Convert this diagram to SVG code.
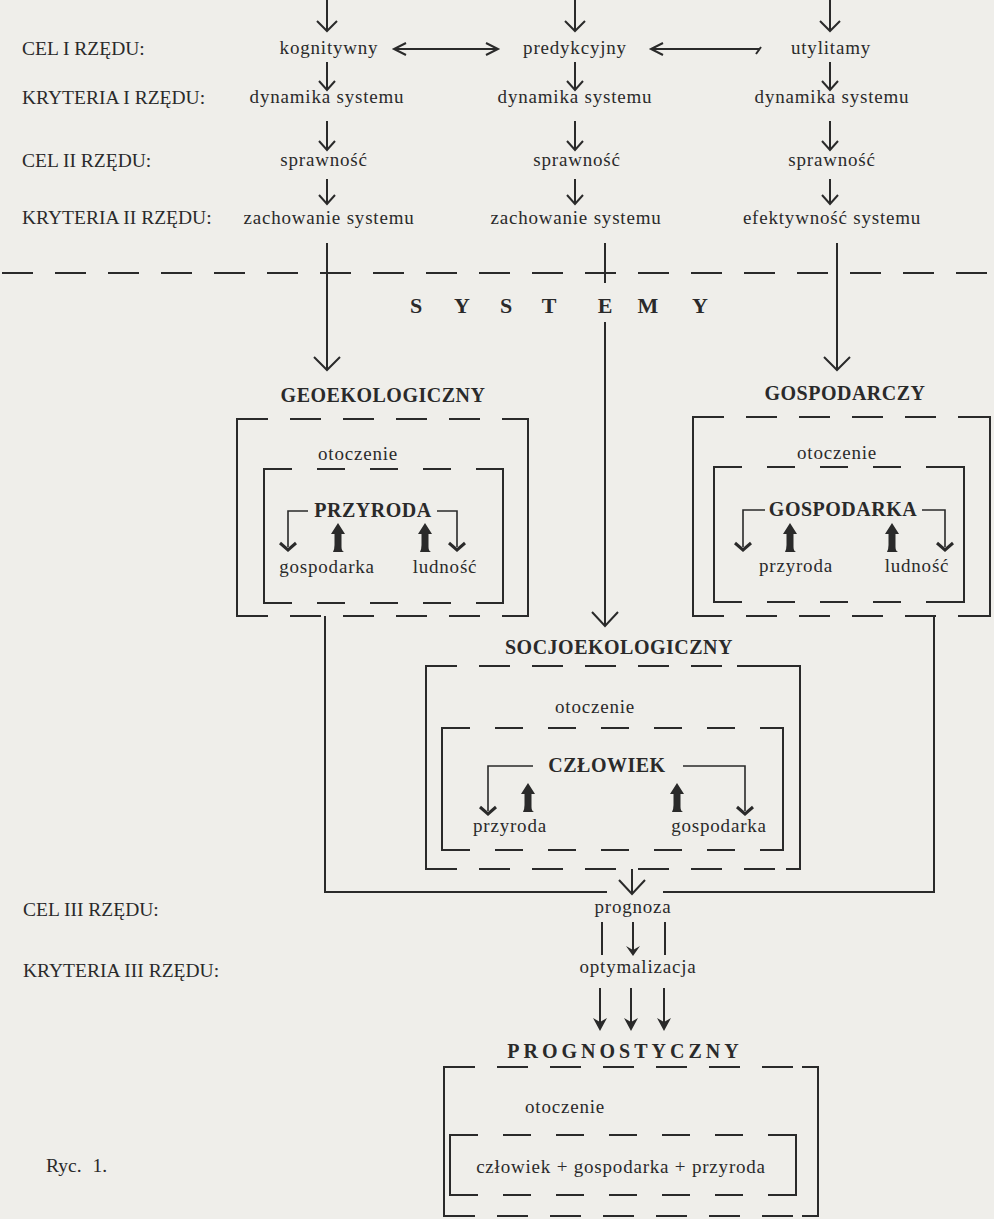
<svg xmlns="http://www.w3.org/2000/svg" xmlns:xlink="http://www.w3.org/1999/xlink" width="994" height="1219" viewBox="0 0 994 1219">
<defs>
<style>
text{font-family:"Liberation Serif","DejaVu Serif",serif;fill:#2a2a2a}
.lbl{font-size:19.5px}
.t{font-size:19px;letter-spacing:0.8px;text-anchor:middle}
.h{font-size:20px;font-weight:bold;letter-spacing:0.5px;text-anchor:middle}
.sys{font-size:22px;font-weight:bold;text-anchor:middle}
.ln{fill:none;stroke:#2a2a2a;stroke-width:2}
.thin{fill:none;stroke:#2a2a2a;stroke-width:1.6}
.dash{fill:none;stroke:#2a2a2a;stroke-width:2;stroke-dasharray:31 22}
.chev{fill:none;stroke:#2a2a2a;stroke-width:3}
.fill{fill:#2a2a2a}
</style>
<path id="thick" d="M0,-15 L7,-4 L3.5,-4 L3.5,9 Q3.5,13 6,14 L-5,14 Q-3.5,11 -3.5,7 L-3.5,-4 L-7,-4 Z"/>
<path id="chev" d="M-8,-5 L0,2 L8,-5"/>
</defs>
<rect x="0" y="0" width="994" height="1219" fill="#efeeea"/>

<g id="labels">
<text class="lbl" x="22" y="55">CEL I RZĘDU:</text>
<text class="lbl" x="22" y="104">KRYTERIA I RZĘDU:</text>
<text class="lbl" x="22" y="167">CEL II RZĘDU:</text>
<text class="lbl" x="22" y="224">KRYTERIA II RZĘDU:</text>
<text class="lbl" x="23" y="916">CEL III RZĘDU:</text>
<text class="lbl" x="23" y="977">KRYTERIA III RZĘDU:</text>
<text class="lbl" x="46" y="1172" word-spacing="6">Ryc. 1.</text>
</g>

<g id="col1">
<text class="t" x="329" y="54">kognitywny</text>
<text class="t" x="327" y="103">dynamika systemu</text>
<text class="t" x="324" y="166">sprawność</text>
<text class="t" x="329" y="224">zachowanie systemu</text>
</g>
<g id="col2">
<text class="t" x="575" y="54">predykcyjny</text>
<text class="t" x="575" y="103">dynamika systemu</text>
<text class="t" x="577" y="166">sprawność</text>
<text class="t" x="576" y="224">zachowanie systemu</text>
</g>
<g id="col3">
<text class="t" x="831" y="54">utylitamy</text>
<text class="t" x="832" y="103">dynamika systemu</text>
<text class="t" x="832" y="166">sprawność</text>
<text class="t" x="832" y="224">efektywność systemu</text>
</g>

<g id="systemy">
<text class="sys" x="416" y="313">S</text>
<text class="sys" x="462" y="313">Y</text>
<text class="sys" x="506" y="313">S</text>
<text class="sys" x="549" y="313">T</text>
<text class="sys" x="605" y="313">E</text>
<text class="sys" x="648" y="313">M</text>
<text class="sys" x="700" y="313">Y</text>
</g>

<g id="geoekologiczny">
<text class="h" x="383" y="402">GEOEKOLOGICZNY</text>
<line class="dash" x1="237" y1="419" x2="528" y2="419"/>
<line class="dash" x1="237" y1="616" x2="528" y2="616"/>
<path class="ln" d="M252,419 H237 V616 H252"/>
<path class="ln" d="M514,419 H528 V616 H514"/>
<text class="t" x="358" y="460">otoczenie</text>
<line class="dash" x1="264" y1="469" x2="503" y2="469" style="stroke-dasharray:28 25"/>
<line class="dash" x1="264" y1="603" x2="503" y2="603" style="stroke-dasharray:28 25"/>
<path class="ln" d="M276,469 H264 V603 H276"/>
<path class="ln" d="M491,469 H503 V603 H491"/>
<text class="h" x="373" y="517">PRZYRODA</text>
<path class="thin" d="M308,511 H288 V547 M437,511 H457 V547"/>
<use xlink:href="#chev" href="#chev" class="chev" x="288" y="548"/>
<use xlink:href="#chev" href="#chev" class="chev" x="457" y="548"/>
<use xlink:href="#thick" href="#thick" class="fill" x="338" y="538"/>
<use xlink:href="#thick" href="#thick" class="fill" x="425" y="538"/>
<text class="t" x="327" y="573">gospodarka</text>
<text class="t" x="445" y="573">ludność</text>
</g>

<g id="gospodarczy">
<text class="h" x="845" y="400">GOSPODARCZY</text>
<line class="dash" x1="693" y1="417" x2="990" y2="417"/>
<line class="dash" x1="693" y1="616" x2="990" y2="616"/>
<path class="ln" d="M708,417 H693 V616 H708"/>
<path class="ln" d="M976,417 H990 V616 H976"/>
<text class="t" x="837" y="459">otoczenie</text>
<line class="dash" x1="714" y1="467" x2="964" y2="467" style="stroke-dasharray:28 25"/>
<line class="dash" x1="714" y1="602" x2="964" y2="602" style="stroke-dasharray:28 25"/>
<path class="ln" d="M726,467 H714 V602 H726"/>
<path class="ln" d="M952,467 H964 V602 H952"/>
<text class="h" x="843" y="516">GOSPODARKA</text>
<path class="thin" d="M765,510 H743 V547 M922,510 H945 V547"/>
<use xlink:href="#chev" href="#chev" class="chev" x="743" y="548"/>
<use xlink:href="#chev" href="#chev" class="chev" x="945" y="548"/>
<use xlink:href="#thick" href="#thick" class="fill" x="790" y="538"/>
<use xlink:href="#thick" href="#thick" class="fill" x="892" y="538"/>
<text class="t" x="796" y="572">przyroda</text>
<text class="t" x="917" y="572">ludność</text>
</g>

<g id="socjoekologiczny">
<text class="h" x="619" y="654">SOCJOEKOLOGICZNY</text>
<line class="dash" x1="426" y1="666" x2="800" y2="666"/>
<line class="dash" x1="426" y1="869" x2="800" y2="869"/>
<path class="ln" d="M442,666 H426 V869 H442"/>
<path class="ln" d="M737,666 H800 V869 H786"/>
<text class="t" x="595" y="713">otoczenie</text>
<line class="dash" x1="442" y1="728" x2="783" y2="728" style="stroke-dasharray:28 25"/>
<line class="dash" x1="442" y1="850" x2="783" y2="850" style="stroke-dasharray:28 25"/>
<path class="ln" d="M454,728 H442 V850 H454"/>
<path class="ln" d="M771,728 H783 V850 H771"/>
<text class="h" x="607" y="772">CZŁOWIEK</text>
<path class="thin" d="M533,766 H488 V811 M683,766 H745 V811"/>
<use xlink:href="#chev" href="#chev" class="chev" x="488" y="812"/>
<use xlink:href="#chev" href="#chev" class="chev" x="745" y="812"/>
<use xlink:href="#thick" href="#thick" class="fill" x="528" y="798"/>
<use xlink:href="#thick" href="#thick" class="fill" x="677" y="798"/>
<text class="t" x="510" y="832">przyroda</text>
<text class="t" x="719" y="832">gospodarka</text>
</g>

<g id="bottom">
<text class="t" x="633" y="913">prognoza</text>
<text class="t" x="638" y="973">optymalizacja</text>
</g>

<g id="prognostyczny">
<text class="h" x="625" y="1058" style="letter-spacing:4px">PROGNOSTYCZNY</text>
<line class="dash" x1="444" y1="1067" x2="818" y2="1067"/>
<line class="dash" x1="444" y1="1216" x2="818" y2="1216"/>
<path class="ln" d="M460,1067 H444 V1216 H460"/>
<path class="ln" d="M802,1067 H818 V1216 H802"/>
<text class="t" x="565" y="1113">otoczenie</text>
<line class="dash" x1="450" y1="1135" x2="796" y2="1135" style="stroke-dasharray:28 25"/>
<line class="dash" x1="450" y1="1195" x2="796" y2="1195" style="stroke-dasharray:28 25"/>
<path class="ln" d="M462,1135 H450 V1195 H462"/>
<path class="ln" d="M784,1135 H796 V1195 H784"/>
<text class="t" x="621" y="1173">człowiek + gospodarka + przyroda</text>
</g>

<g id="connectors">
<line class="dash" x1="0" y1="273" x2="994" y2="273" style="stroke-dasharray:31 22;stroke-dashoffset:-2"/>
<path class="ln" stroke-width="3" d="M327,0 V31 M317,21 L327,31 L337,21 M575,0 V31 M565,21 L575,31 L585,21 M830,0 V31 M820,21 L830,31 L840,21"/>
<path class="ln" d="M327,62 V90 M319,81 L327,90 L335,81 M575,62 V90 M567,81 L575,90 L583,81 M830,62 V90 M822,81 L830,90 L838,81"/>
<path class="ln" d="M327,121 V150 M319,141 L327,150 L335,141 M575,121 V150 M567,141 L575,150 L583,141 M830,121 V150 M822,141 L830,150 L838,141"/>
<path class="ln" d="M327,179 V204 M319,195 L327,204 L335,195 M575,179 V204 M567,195 L575,204 L583,195 M830,179 V204 M822,195 L830,204 L838,195"/>
<path class="ln" d="M394,49 H498 M406,43 L394,49 L406,55 M486,43 L498,49 L486,55"/>
<path class="ln" d="M651,49 H760 M663,43 L651,49 L663,55 M756,54 L761,47"/>
<path class="ln" d="M327,243 V369 M314,357 L327,370 L340,357"/>
<path class="ln" d="M837,243 V369 M824,357 L837,370 L850,357"/>
<path class="ln" d="M605,243 V283 M605,322 V625 M592,612 L605,626 L618,612"/>
<path class="ln" d="M325,616 V892 H607"/>
<path class="ln" d="M934,616 V892 H663"/>
<path class="ln" d="M632,869 V893 M619,880 L632,894 L645,880"/>
<path class="ln" stroke-width="2.5" d="M602,922 V955 M665,922 V955 M633,922 V952"/>
<path class="fill" d="M626,946 L633,956 L640,946 L633,950 Z"/>
<path class="ln" stroke-width="2.5" d="M600,988 V1024 M631,988 V1024 M664,988 V1024"/>
<path class="fill" d="M593,1018 L600,1031 L607,1018 L600,1022 Z M624,1018 L631,1031 L638,1018 L631,1022 Z M657,1018 L664,1031 L671,1018 L664,1022 Z"/>
</g>
</svg>
